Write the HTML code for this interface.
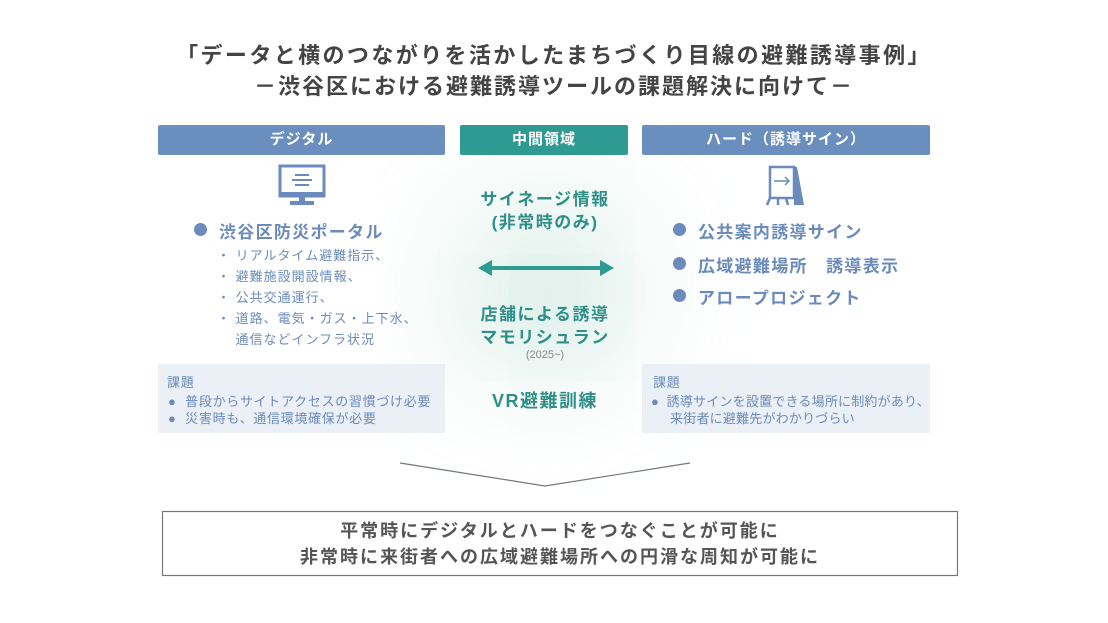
<!DOCTYPE html>
<html><head><meta charset="utf-8"><style>
body{margin:0;width:1108px;height:623px;background:#fff;position:relative;overflow:hidden;font-family:"Liberation Sans","Noto Sans CJK JP",sans-serif}
.a{position:absolute;white-space:nowrap}
.hd{position:absolute;top:125px;height:30px;color:#fff;font-weight:bold;font-size:15px;text-align:center;line-height:30px;border-radius:2px;letter-spacing:1px}
.blu{color:#6a8bbb}
.dot{position:absolute;width:13px;height:13px;border-radius:50%;background:#6a8bbb}
.box{position:absolute;top:364px;height:69px;background:#ebeff6}
.sm{font-size:13px;color:#6a8bbb;letter-spacing:0.7px}
.tl{color:#2e8f88;font-weight:bold;font-size:17px;text-align:center;width:200px;left:445px;letter-spacing:1.5px}
.bb{font-size:17px;font-weight:bold;letter-spacing:1.3px}
</style></head><body>
<div class="a" style="left:545px;top:290px;width:0;height:0;box-shadow:0 0 110px 80px rgba(170,215,200,0.45);border-radius:50%"></div>
<div class="a" style="left:0;width:1108px;text-align:center;top:38px;font-size:22px;font-weight:bold;color:#444;letter-spacing:2.4px">「データと横のつながりを活かしたまちづくり目線の避難誘導事例」</div>
<div class="a" style="left:0;width:1108px;text-align:center;top:69px;font-size:22px;font-weight:bold;color:#444;letter-spacing:2px">－渋谷区における避難誘導ツールの課題解決に向けて－</div>

<div class="hd" style="left:158px;width:287px;background:#6a8fbe">デジタル</div>
<div class="hd" style="left:460px;width:168px;background:#2e9a92">中間領域</div>
<div class="hd" style="left:642px;width:288px;background:#6a8fbe">ハード（誘導サイン）</div>

<svg class="a" style="left:275px;top:164px" width="56" height="44"><rect x="5" y="2" width="44" height="30" fill="none" stroke="#6a8bbb" stroke-width="3"/><rect x="5" y="28" width="44" height="5" fill="#6a8bbb"/><rect x="24" y="33" width="6" height="4" fill="#6a8bbb"/><rect x="15" y="37" width="24" height="4" fill="#6a8bbb"/><rect x="20" y="10" width="14" height="2" fill="#6a8bbb"/><rect x="17" y="15" width="20" height="2" fill="#6a8bbb"/><rect x="20" y="20" width="14" height="2" fill="#6a8bbb"/></svg>
<div class="dot" style="left:194px;top:223px"></div>
<div class="a blu bb" style="left:219px;top:218px">渋谷区防災ポータル</div>
<div class="a sm" style="left:217px;top:245px;line-height:21px;letter-spacing:1px">・ リアルタイム避難指示、<br>・ 避難施設開設情報、<br>・ 公共交通運行、<br>・ 道路、電気・ガス・上下水、<br>&nbsp;&nbsp;&nbsp;&nbsp;通信などインフラ状況</div>
<div class="box" style="left:158px;width:287px"></div>
<div class="a sm" style="left:167px;top:372px">課題</div>
<div class="a sm" style="left:168px;top:393px;line-height:17px">●&nbsp; 普段からサイトアクセスの習慣づけ必要<br>●&nbsp; 災害時も、通信環境確保が必要</div>

<svg class="a" style="left:764px;top:163px" width="44" height="45"><path d="M6 4 L30 4 L30 35 L6 35 Z" fill="none" stroke="#6a8bbb" stroke-width="2.5"/><path d="M30 4 L33 4 L40 42 L30 42 Z" fill="#6a8bbb"/><path d="M6 35 L3 42 M14 35 L14 42 M22 35 L24 42" stroke="#6a8bbb" stroke-width="2.5"/><path d="M10 18 L25 18 M21 14 L25 18 L21 22" stroke="#6a8bbb" stroke-width="1.5" fill="none"/></svg>
<div class="dot" style="left:673px;top:223px"></div>
<div class="a blu bb" style="left:698px;top:218px">公共案内誘導サイン</div>
<div class="dot" style="left:673px;top:257px"></div>
<div class="a blu bb" style="left:698px;top:252px">広域避難場所　誘導表示</div>
<div class="dot" style="left:673px;top:289px"></div>
<div class="a blu bb" style="left:698px;top:284px">アロープロジェクト</div>
<div class="box" style="left:642px;width:288px"></div>
<div class="a sm" style="left:653px;top:372px">課題</div>
<div class="a sm" style="left:651px;top:393px;line-height:17px;letter-spacing:0.2px">●&nbsp; 誘導サインを設置できる場所に制約があり、<br>&nbsp;&nbsp;&nbsp;&nbsp;&nbsp;来街者に避難先がわかりづらい</div>

<div class="a tl" style="top:188px;line-height:23px">サイネージ情報<br>(非常時のみ)</div>
<svg class="a" style="left:476px;top:258px" width="140" height="20"><path d="M14 10 H126" stroke="#2e9a92" stroke-width="4"/><path d="M2 10 L16 2 L16 18 Z M138 10 L124 2 L124 18 Z" fill="#2e9a92"/></svg>
<div class="a tl" style="top:303px;line-height:23px">店舗による誘導<br>マモリシュラン</div>
<div class="a" style="left:445px;width:200px;text-align:center;top:349px;font-size:11px;color:#888">(2025~)</div>
<div class="a tl" style="top:387px;font-size:18px">VR避難訓練</div>

<svg class="a" style="left:0;top:0" width="1108" height="623"><path d="M400 463 L545 486 L690 463" fill="none" stroke="#777" stroke-width="1.2"/><rect x="162.5" y="511.5" width="795" height="64" fill="none" stroke="#777" stroke-width="1.2"/></svg>
<div class="a" style="left:162px;width:796px;text-align:center;top:518px;font-size:18px;font-weight:bold;color:#555;line-height:26px;letter-spacing:2px">平常時にデジタルとハードをつなぐことが可能に<br>非常時に来街者への広域避難場所への円滑な周知が可能に</div>
</body></html>
